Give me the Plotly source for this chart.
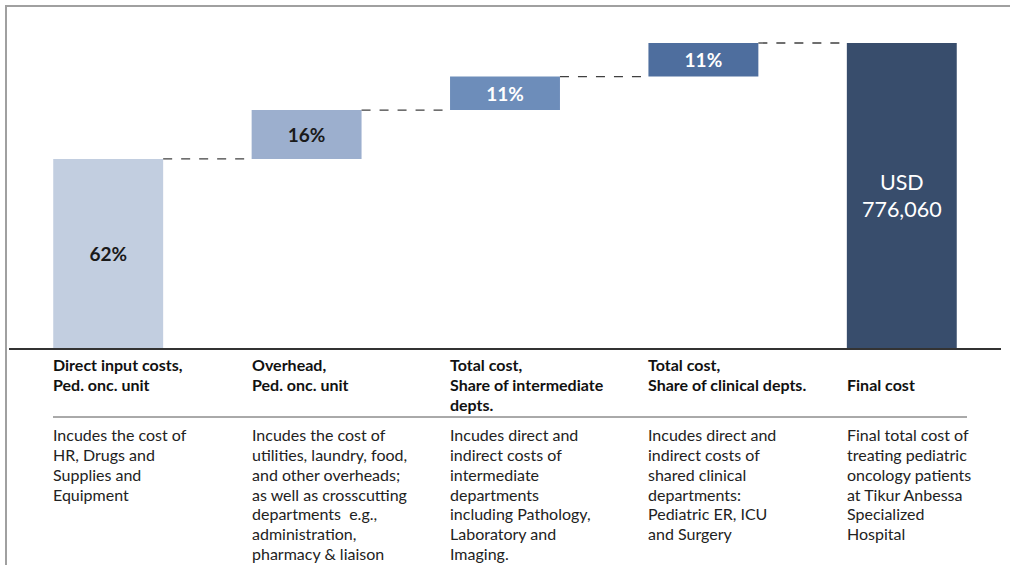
import plotly.graph_objects as go

# ---- data ----
steps = ["Direct input costs", "Overhead", "Intermediate depts", "Clinical depts", "Final cost"]
shares = [62, 16, 11, 11]          # % of total cost
total_usd = 776060
headers = [
    ["Direct input costs,", "Ped. onc. unit"],
    ["Overhead,", "Ped. onc. unit"],
    ["Total cost,", "Share of intermediate", "depts."],
    ["Total cost,", "Share of clinical depts."],
    ["", "Final cost"],
]
descriptions = [
    ["Incudes the cost of", "HR, Drugs and", "Supplies and", "Equipment"],
    ["Incudes the cost of", "utilities, laundry, food,", "and other overheads;",
     "as well as crosscutting", "departments  e.g.,", "administration,", "pharmacy & liaison"],
    ["Incudes direct and", "indirect costs of", "intermediate", "departments",
     "including Pathology,", "Laboratory and", "Imaging."],
    ["Incudes direct and", "indirect costs of", "shared clinical", "departments:",
     "Pediatric ER, ICU", "and Surgery"],
    ["Final total cost of", "treating pediatric", "oncology patients", "at Tikur Anbessa",
     "Specialized", "Hospital"],
]
colors = ["#C2CEE0", "#9CAFCE", "#6D8DBA", "#4E6E9E", "#384D6C"]
text_colors = ["#1a1a1a", "#1a1a1a", "white", "white", "white"]

# ---- derived ----
total_share = sum(shares)
bases, heights = [], []
cum = 0
for s in shares:
    bases.append(cum)
    heights.append(s)
    cum += s
bases.append(0)
heights.append(total_share)
labels = [f"<b>{s}%</b>" for s in shares] + [f"USD<br>{total_usd:,}"]
sizes = [19, 19, 19, 19, 21.5]
xs = list(range(len(steps)))

W, H = 1010, 565
ML, MR, MT, MB = 9, 9, 20, 217
plot_h = H - MT - MB
BW = 0.554
FONT = "Lato"

fig = go.Figure()
fig.add_trace(go.Bar(
    x=xs, y=heights, base=bases, width=BW,
    marker=dict(color=colors, line=dict(width=0)),
    text=labels, textposition="inside", insidetextanchor="middle",
    textfont=dict(color=text_colors, size=sizes, family=FONT),
    constraintext="none", cliponaxis=False, hoverinfo="skip",
))

# connectors
tops = [b + h for b, h in zip(bases, heights)]
for i in range(len(steps) - 1):
    fig.add_trace(go.Scatter(
        x=[xs[i] + BW / 2, xs[i + 1] - BW / 2], y=[tops[i], tops[i]],
        mode="lines", line=dict(color="#404040", width=1.3, dash="dash"),
        hoverinfo="skip", showlegend=False,
    ))

def py(ypix):
    return (H - MB - ypix) / plot_h

def px(xpix):
    return (xpix - ML) / (W - ML - MR)

annotations = []
for i in range(len(steps)):
    for k, line in enumerate(headers[i]):
        if not line:
            continue
        annotations.append(dict(
            x=xs[i] - BW / 2, xref="x", y=py(364 + 20 * k), yref="paper",
            xanchor="left", yanchor="middle", align="left", showarrow=False,
            text=f"<b>{line}</b>", xshift=-2,
            font=dict(family=FONT, size=16, color="#111111"),
        ))
    for k, line in enumerate(descriptions[i]):
        annotations.append(dict(
            x=xs[i] - BW / 2, xref="x", y=py(435 + 19.67 * k), yref="paper",
            xanchor="left", yanchor="middle", align="left", showarrow=False,
            text=line, xshift=-2,
            font=dict(family=FONT, size=16, color="#222222"),
        ))

shapes = [
    # frame
    dict(type="line", xref="paper", yref="paper", x0=px(5), x1=px(W + 5), y0=py(6), y1=py(6),
         line=dict(color="#A0A0A0", width=2)),
    dict(type="line", xref="paper", yref="paper", x0=px(6), x1=px(6), y0=py(5), y1=py(H + 5),
         line=dict(color="#A0A0A0", width=2)),
    # header rule
    dict(type="line", xref="paper", yref="paper", x0=px(53), x1=px(967), y0=py(417), y1=py(417),
         line=dict(color="#555555", width=1)),
]

fig.update_layout(
    width=W, height=H,
    margin=dict(l=ML, r=MR, t=MT, b=MB),
    paper_bgcolor="white", plot_bgcolor="white",
    showlegend=False,
    xaxis=dict(range=[-0.5, 4.5], showticklabels=False, ticks="", showgrid=False,
               zeroline=False, showline=True, linecolor="#333333", linewidth=1.5),
    yaxis=dict(range=[0, plot_h / 3.05], visible=False, showgrid=False, zeroline=False),
    annotations=annotations, shapes=shapes,
    font=dict(family=FONT),
)

fig.write_html("out.html", config={"displayModeBar": False},
               post_script="document.body.style.margin='0px';document.body.style.overflow='hidden';")
